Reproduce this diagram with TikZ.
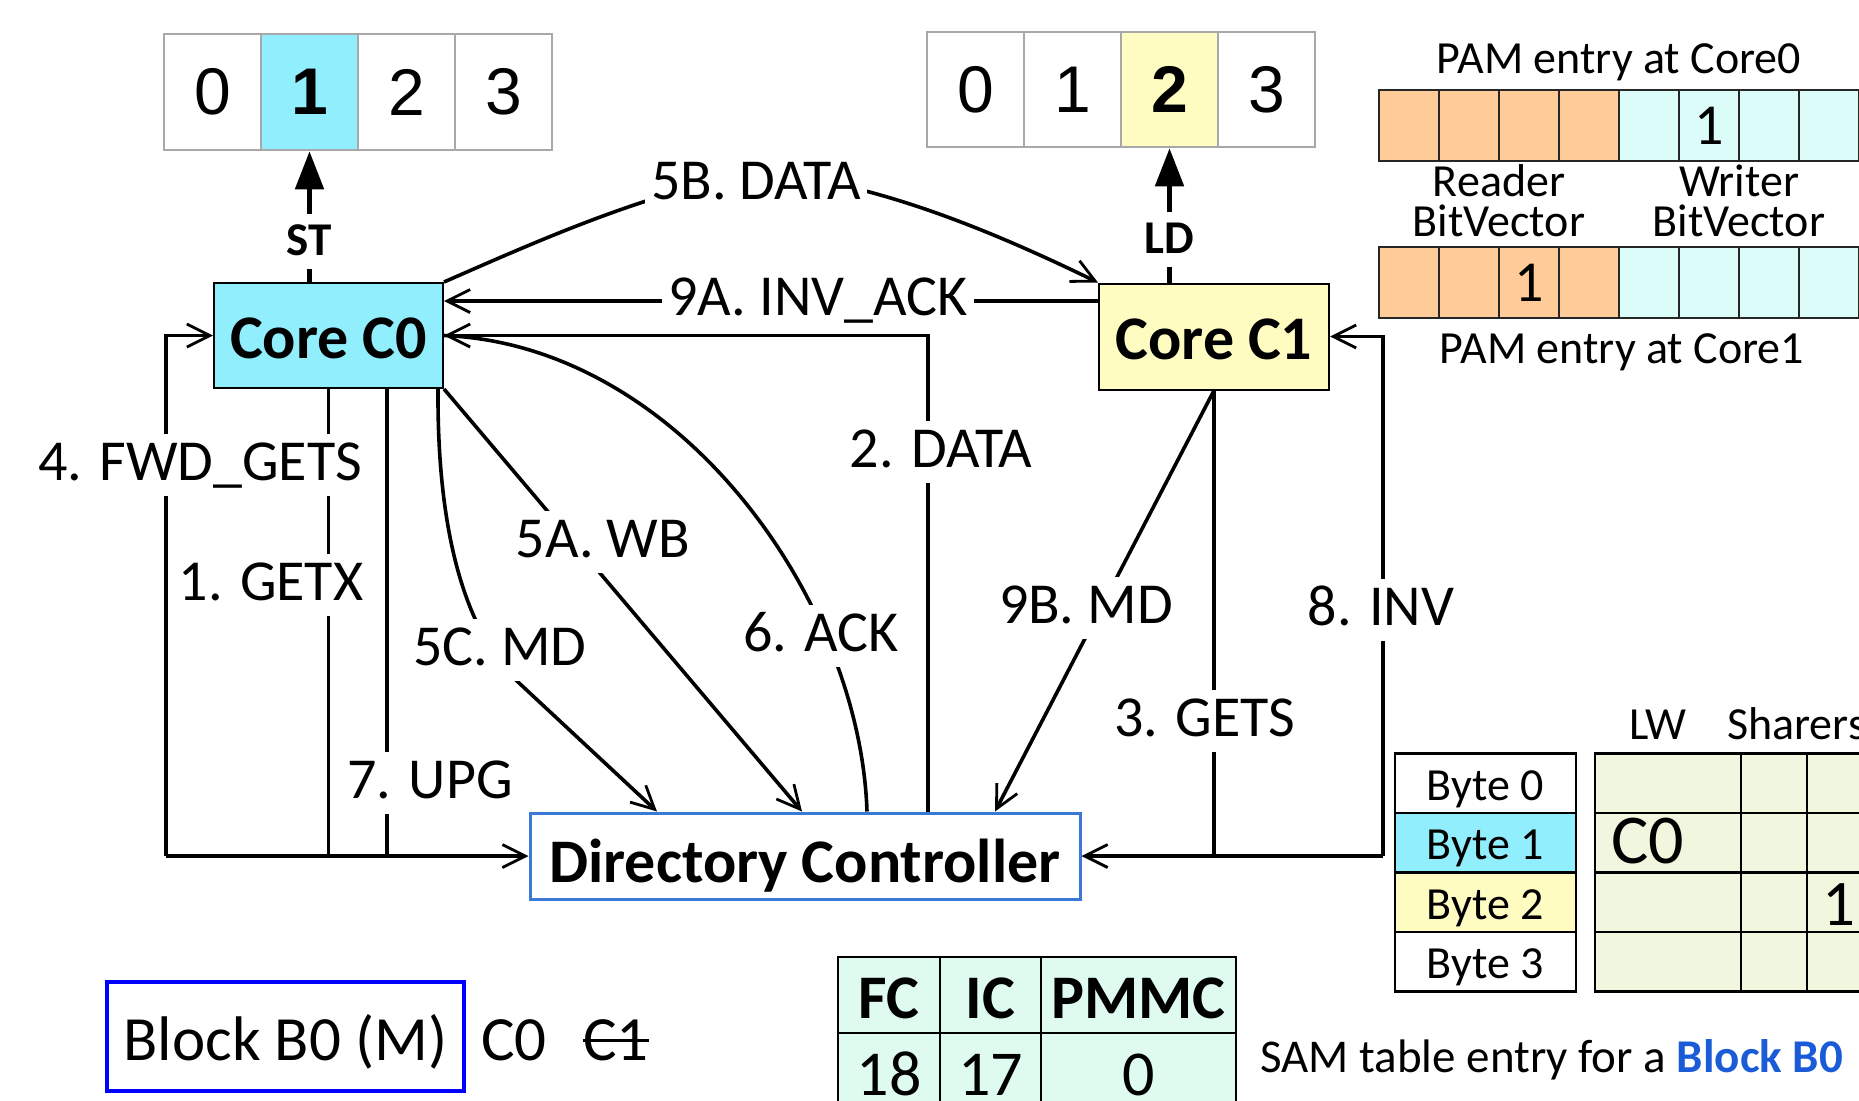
\documentclass[tikz,border=0pt]{standalone}
\usepackage{fontspec}
\setmainfont{Carlito}
\newfontfamily\arialf{Liberation Sans}
\usetikzlibrary{arrows.meta}
\definecolor{cyanF}{HTML}{91EEFC}
\definecolor{yelF}{HTML}{FFFCC2}
\definecolor{orgF}{HTML}{FFCC99}
\definecolor{ltcF}{HTML}{DCFCFA}
\definecolor{samF}{HTML}{F1F6DF}
\definecolor{mintF}{HTML}{DFFBEF}
\definecolor{dcB}{HTML}{3C78D8}
\definecolor{capB}{HTML}{1A5CD7}
\definecolor{grayB}{HTML}{A8A8A8}
\newcommand\fLbl{\fontsize{58}{64}\selectfont}
\newcommand\fCore{\fontsize{62}{70}\selectfont\bfseries}
\newcommand\fSm{\fontsize{46}{40}\selectfont}
\newcommand\fDig{\arialf\fontsize{66}{70}\selectfont}
\begin{document}
\begin{tikzpicture}[x=1pt,y=-1pt,
  >={Straight Barb[length=23pt,width=23pt,line width=2.8pt]},
  conn/.style={line width=3.6pt},
  lbl/.style={font=\fLbl, fill=white, inner xsep=6pt, inner ysep=6pt, text height=40pt, text depth=10pt, anchor=base},
  stl/.style={font=\fontsize{47}{50}\selectfont\bfseries, fill=white, inner xsep=4pt, inner ysep=5pt, text height=36pt, text depth=9pt, anchor=base},
  big/.style={line width=5pt, -{Triangle[length=38pt,width=28pt]}},
  cell/.style={draw=grayB, line width=2.5pt, minimum width=97pt, inner sep=0pt, font=\fDig},
  pamcell/.style={draw=black!85, line width=2pt, minimum width=60pt, minimum height=71pt, inner sep=0pt, font=\fontsize{58}{60}\selectfont},
  bytec/.style={draw, line width=2.5pt, minimum width=181pt, minimum height=59.5pt, inner sep=0pt, text height=34pt, text depth=0pt, font=\fSm},
  samc/.style={draw, line width=2.5pt, fill=samF, minimum height=59.5pt, inner sep=0pt},
  fct/.style={draw, line width=2.5pt, fill=mintF, inner sep=0pt},
  txt/.style={inner sep=0pt, font=\fSm},
  bvt/.style={inner sep=0pt, font=\fSm, align=center, anchor=south},
  box/.style={draw, line width=2pt, minimum width=229pt, minimum height=105pt, inner sep=0pt, font=\fCore, text height=45pt, text depth=0pt}
]
\useasboundingbox (0,0) rectangle (1859,1100);
\clip (0,0) rectangle (1859,1100);

% ---- top arrays
\node[cell, minimum height=116pt] (aL0) at (212.5,92) {0};
\node[cell, minimum height=116pt, fill=cyanF, font=\fDig\bfseries] (aL1) at (309.5,92) {1};
\node[cell, minimum height=116pt] (aL2) at (406.5,92) {2};
\node[cell, minimum height=116pt] (aL3) at (503.5,92) {3};
\node[cell, minimum height=115pt] (aR0) at (975.5,89.5) {0};
\node[cell, minimum height=115pt] (aR1) at (1072.5,89.5) {1};
\node[cell, minimum height=115pt, fill=yelF, font=\fDig\bfseries] (aR2) at (1169.5,89.5) {2};
\node[cell, minimum height=115pt] (aR3) at (1266.5,89.5) {3};

% ---- main boxes
\node[box, fill=cyanF] (C0) at (328.5,335.5) {Core C0};
\node[box, fill=yelF, minimum width=230pt, minimum height=106pt] (C1) at (1214,336.5) {Core C1};
\node[draw=dcB, line width=3pt, minimum width=550pt, minimum height=86pt, inner sep=0pt, font=\fCore, text height=52pt, text depth=0pt] (DC) at (805,856) {Directory Controller};

% ---- ST / LD
\draw[big] (C0.north -| aL1.south) -- (aL1.south);
\node[stl] (st) at (309.5,255) {ST};
\draw[big] (C1.north -| aR2.south) -- (aR2.south);
\node[stl] (ld) at (1169.5,253) {LD};

% ---- connectors
\draw[conn,->] (DC.west -| 166,0) |- (C0.west);
\draw[conn,->] (DC.west -| 166,0) -- (DC.west);
\draw[conn] (C0.south) -- (C0.south |- DC.west);
\draw[conn] (C0.south -| 387,0) -- (DC.west -| 387,0);
\draw[conn,->] ([xshift=-6pt]C0.south east) .. controls (437,540) and (468,634) .. (518,682) -- (DC.north -| 657,0);
\draw[conn,->] (C0.south east) -- (DC.north -| 802,0);
\draw[conn] (DC.north -| 867,0) .. controls (860,600) and (680,345) .. (C0.east);
\draw[conn,->] (DC.north -| 928,0) |- (C0.east);
\draw[conn,->] (C1.west |- 0,301) -- (C0.east |- 0,301);
\draw[conn,->] (C0.north east) .. controls (540,240) and (640,195) .. (756,172) .. controls (870,180) and (990,230) .. (C1.north west);
\draw[conn,->] (C1.south) -- (DC.north -| 995,0);
\draw[conn] (C1.south) -- (C1.south |- DC.east);
\draw[conn,->] (DC.east -| 1383,0) |- (C1.east);
\draw[conn,->] (DC.east -| 1383,0) -- (DC.east);

% ---- connector labels
\node[lbl] (l4) at (200,480) {4. FWD\_GETS};
\node[lbl] (l1) at (271,600) {1. GETX};
\node[lbl] (l5c) at (500,665) {5C. MD};
\node[lbl] (l7) at (430,798) {7. UPG};
\node[lbl] (l5a) at (603,557) {5A. WB};
\node[lbl] (l6) at (821,651) {6. ACK};
\node[lbl] (l2) at (941,467) {2. DATA};
\node[lbl] (l9b) at (1086,623) {9B. MD};
\node[lbl] (l3) at (1205,736) {3. GETS};
\node[lbl] (l8) at (1381,625) {8. INV};
\node[lbl] (l5b) at (756,199) {5B. DATA};
\node[lbl, text depth=8pt, inner ysep=4pt] (l9a) at (818,315) {9A. INV\_ACK};

% ---- PAM entries
\node[txt, anchor=base] (pamt0) at (1619,73) {PAM entry at Core0};
\node[pamcell, fill=orgF] (pa0) at (1409,125.5) {};
\node[pamcell, fill=orgF] (pa1) at (1469,125.5) {};
\node[pamcell, fill=orgF] (pa2) at (1529,125.5) {};
\node[pamcell, fill=orgF] (pa3) at (1589,125.5) {};
\node[pamcell, fill=ltcF] (pa4) at (1649,125.5) {};
\node[pamcell, fill=ltcF] (pa5) at (1709,125.5) {1};
\node[pamcell, fill=ltcF] (pa6) at (1769,125.5) {};
\node[pamcell, fill=ltcF] (pa7) at (1829,125.5) {};
\node[bvt] (rdbv) at (1499,237.5) {Reader\\BitVector};
\node[bvt] (wrbv) at (1739,237.5) {Writer\\BitVector};
\node[pamcell, fill=orgF] (pb0) at (1409,282.5) {};
\node[pamcell, fill=orgF] (pb1) at (1469,282.5) {};
\node[pamcell, fill=orgF] (pb2) at (1529,282.5) {1};
\node[pamcell, fill=orgF] (pb3) at (1589,282.5) {};
\node[pamcell, fill=ltcF] (pb4) at (1649,282.5) {};
\node[pamcell, fill=ltcF] (pb5) at (1709,282.5) {};
\node[pamcell, fill=ltcF] (pb6) at (1769,282.5) {};
\node[pamcell, fill=ltcF] (pb7) at (1829,282.5) {};
\node[txt, anchor=base] (pamt1) at (1622,363) {PAM entry at Core1};

% ---- SAM table
\node[txt, anchor=base] (lw) at (1658,739) {LW};
\node[txt, anchor=base west] (sh) at (1727,739) {Sharers};
\node[bytec] (b0) at (1485.5,783) {Byte 0};
\node[bytec, fill=cyanF] (b1) at (1485.5,842.5) {Byte 1};
\node[bytec, fill=yelF] (b2) at (1485.5,902) {Byte 2};
\node[bytec] (b3) at (1485.5,961.5) {Byte 3};
\foreach \r/\y in {0/783,1/842.5,2/902,3/961.5}{
  \node[samc, minimum width=146pt] (s\r a) at (1668,\y) {};
  \node[samc, minimum width=66pt] (s\r b) at (1774,\y) {};
  \node[samc, minimum width=73pt] (s\r c) at (1843.5,\y) {};
}
\node[anchor=base west, inner sep=0pt, font=\fontsize{70}{72}\selectfont] (sC0) at (1611,863) {C0};
\node[anchor=base west, inner sep=0pt, font=\fontsize{65}{70}\selectfont] (sOne) at (1822,925) {1};
\node[txt, anchor=base west, font=\fontsize{47}{50}\selectfont] (cap) at (1260,1072) {SAM table entry for a \textcolor{capB}{\bfseries Block B0}};

% ---- counters table
\node[fct, minimum width=102pt, minimum height=76pt, font=\fontsize{62}{64}\selectfont\bfseries, text height=46pt, text depth=0pt] (fc) at (889,995) {FC};
\node[fct, minimum width=101pt, minimum height=76pt, font=\fontsize{62}{64}\selectfont\bfseries, text height=46pt, text depth=0pt] (ic) at (990.5,995) {IC};
\node[fct, minimum width=195pt, minimum height=76pt, font=\fontsize{62}{64}\selectfont\bfseries, text height=46pt, text depth=0pt] (pm) at (1138.5,995) {PMMC};
\node[fct, minimum width=102pt, minimum height=124pt, font=\fontsize{64}{66}\selectfont, text height=20pt, text depth=20pt] (v18) at (889,1095) {18};
\node[fct, minimum width=101pt, minimum height=124pt, font=\fontsize{64}{66}\selectfont, text height=20pt, text depth=20pt] (v17) at (990.5,1095) {17};
\node[fct, minimum width=195pt, minimum height=124pt, font=\fontsize{64}{66}\selectfont, text height=20pt, text depth=20pt] (v0) at (1138.5,1095) {0};

% ---- block state
\node[draw=blue, line width=3.5pt, minimum width=357pt, minimum height=109pt, inner sep=0pt, font=\fontsize{63}{66}\selectfont, text height=47pt, text depth=0pt] (blk) at (285.5,1036.5) {Block B0 (M)};
\node[anchor=base west, inner sep=0pt, font=\fontsize{63}{66}\selectfont] (bc0) at (481,1060) {C0};
\node[anchor=base west, inner sep=0pt, font=\fontsize{63}{66}\selectfont] (bc1) at (583,1060) {C1};
\draw[line width=3pt] (bc1.west |- 0,1040) -- (bc1.east |- 0,1040);
\end{tikzpicture}
\end{document}
